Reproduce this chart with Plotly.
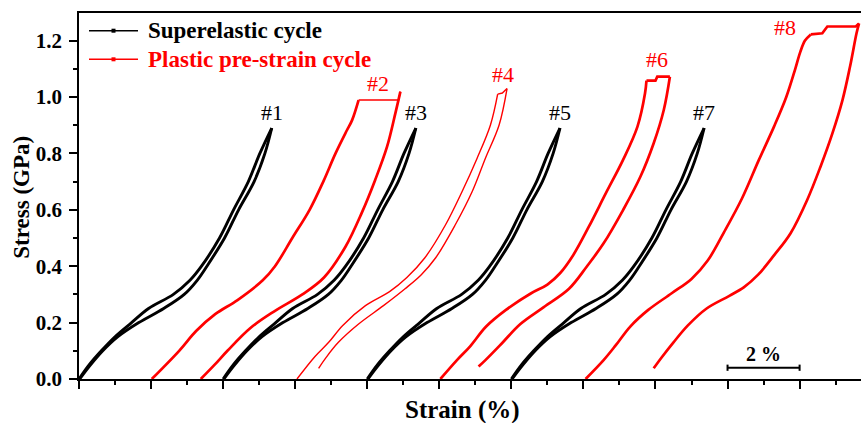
import plotly.graph_objects as go

# ---------------- data ----------------
# Superelastic loop, strain measured from the start of each cycle (%)
se_load_strain = [0.00, 0.28, 0.62, 1.00, 1.46, 1.93, 2.62, 3.08, 3.40, 3.90, 4.29, 4.70, 5.02, 5.35]
se_load_stress = [0.00, 0.05, 0.10, 0.15, 0.20, 0.25, 0.30, 0.35, 0.40, 0.50, 0.60, 0.70, 0.80, 0.89]
se_unload_strain = [5.35, 5.16, 4.86, 4.43, 4.04, 3.55, 3.28, 2.92, 2.35, 1.66, 1.08, 0.66, 0.32, 0.02]
se_unload_stress = [0.89, 0.80, 0.70, 0.60, 0.50, 0.40, 0.35, 0.30, 0.25, 0.20, 0.15, 0.10, 0.05, 0.00]
se_offsets = [0, 4, 8, 12]          # horizontal shift of each superelastic cycle (%)
se_names = ["#1", "#3", "#5", "#7"]

# Plastic pre-strain cycles: loading branch, top segment, unloading branch
p2_load_strain = [2.02, 2.78, 3.25, 3.78, 4.40, 5.10, 5.44, 5.92, 6.40, 6.78, 7.12, 7.44, 7.58, 7.76]
p2_load_stress = [0.00, 0.10, 0.17, 0.23, 0.28, 0.35, 0.40, 0.50, 0.60, 0.70, 0.80, 0.883, 0.918, 0.989]
p2_top_strain = [7.76, 8.87, 8.92]
p2_top_stress = [0.989, 0.989, 1.019]
p2_unload_strain = [8.92, 8.78, 8.55, 8.22, 7.85, 7.40, 6.80, 6.20, 5.42, 4.75, 4.12, 3.76, 3.38]
p2_unload_stress = [1.019, 0.942, 0.824, 0.706, 0.59, 0.47, 0.36, 0.30, 0.24, 0.18, 0.10, 0.05, 0.00]

p4_load_strain = [6.05, 6.55, 6.93, 7.32, 7.95, 8.62, 9.10, 9.60, 10.17, 10.63, 11.05, 11.42, 11.62]
p4_load_stress = [0.00, 0.08, 0.13, 0.19, 0.26, 0.31, 0.36, 0.43, 0.546, 0.664, 0.783, 0.901, 1.010]
p4_top_strain = [11.62, 11.75, 11.88]
p4_top_stress = [1.010, 1.014, 1.030]
p4_unload_strain = [11.88, 11.66, 11.28, 10.91, 10.44, 9.90, 9.50, 9.05, 8.45, 7.76, 7.20, 6.85, 6.65]
p4_unload_stress = [1.030, 0.901, 0.783, 0.664, 0.546, 0.43, 0.37, 0.32, 0.26, 0.195, 0.13, 0.075, 0.038]

p6_load_strain = [10.03, 10.49, 10.85, 11.30, 11.85, 12.55, 13.00, 13.35, 13.72, 14.15, 14.62, 15.10, 15.50, 15.71, 15.75]
p6_load_stress = [0.00, 0.067, 0.115, 0.186, 0.245, 0.304, 0.335, 0.375, 0.440, 0.540, 0.658, 0.777, 0.895, 1.013, 1.058]
p6_top_strain = [15.75, 16.00, 16.05, 16.40]
p6_top_stress = [1.058, 1.058, 1.072, 1.072]
p6_unload_strain = [16.40, 16.23, 15.95, 15.58, 15.10, 14.56, 14.10, 13.60, 12.90, 12.25, 11.74, 11.28, 11.09]
p6_unload_stress = [1.072, 0.954, 0.836, 0.717, 0.599, 0.481, 0.400, 0.320, 0.255, 0.195, 0.127, 0.067, 0.044]

p8_load_strain = [14.06, 14.56, 14.90, 15.30, 15.80, 16.45, 17.00, 17.45, 17.90, 18.40, 18.87, 19.29, 19.63, 19.88, 20.02, 20.15, 20.31]
p8_load_stress = [0.00, 0.067, 0.120, 0.186, 0.245, 0.304, 0.355, 0.420, 0.520, 0.640, 0.777, 0.895, 1.000, 1.100, 1.160, 1.200, 1.222]
p8_top_strain = [20.31, 20.63, 20.77, 21.56, 21.65]
p8_top_stress = [1.222, 1.226, 1.250, 1.250, 1.261]
p8_unload_strain = [21.65, 21.58, 21.40, 21.19, 20.91, 20.58, 20.21, 19.75, 19.30, 18.85, 18.45, 18.05, 17.42, 16.90, 16.50, 16.18, 15.95]
p8_unload_stress = [1.261, 1.226, 1.108, 0.989, 0.871, 0.753, 0.635, 0.517, 0.440, 0.370, 0.325, 0.295, 0.250, 0.190, 0.130, 0.078, 0.038]

legend_names = ["Superelastic cycle", "Plastic pre-strain cycle"]
scale_bar_strain = [18, 20]          # 2 % scale bar
y_ticks = [0.0, 0.2, 0.4, 0.6, 0.8, 1.0, 1.2]

# ---------------- style ----------------
BLACK = "#000000"
RED = "#ff0000"
SERIF = "Liberation Serif, Times New Roman, Times, DejaVu Serif, serif"
W, H = 861, 423
ML, MR, MT, MB = 79, 0, 13, 44
X_RANGE = [0, 782 / 36.03]
Y_RANGE = [0, 366 / 282.0]


def px_x(px):
    return (px - ML) / (W - ML - MR)


def px_y(py):
    return (H - MB - py) / (H - MT - MB)


fig = go.Figure()


def add_branch(xs, ys, color, width, shape="spline"):
    fig.add_trace(go.Scatter(
        x=xs, y=ys, mode="lines", showlegend=False, hoverinfo="skip",
        line=dict(color=color, width=width, shape=shape, smoothing=1.0),
    ))


# superelastic loops
for off in se_offsets:
    add_branch([s + off for s in se_load_strain], se_load_stress, BLACK, 2.9)
    add_branch([s + off for s in se_unload_strain], se_unload_stress, BLACK, 2.9)

# plastic pre-strain loops
plastic = [
    (p2_load_strain, p2_load_stress, p2_top_strain, p2_top_stress, p2_unload_strain, p2_unload_stress, 2.7, 1.5),
    (p4_load_strain, p4_load_stress, p4_top_strain, p4_top_stress, p4_unload_strain, p4_unload_stress, 1.4, 1.4),
    (p6_load_strain, p6_load_stress, p6_top_strain, p6_top_stress, p6_unload_strain, p6_unload_stress, 2.7, 2.7),
    (p8_load_strain, p8_load_stress, p8_top_strain, p8_top_stress, p8_unload_strain, p8_unload_stress, 2.7, 2.7),
]
for lx, ly, tx, ty, ux, uy, w, wt in plastic:
    add_branch(lx, ly, RED, w)
    add_branch(tx, ty, RED, wt, shape="linear")
    add_branch(ux, uy, RED, w)

# cycle labels, anchored at each cycle's peak
label_font = dict(family=SERIF, size=22)
for off, name in zip(se_offsets, se_names):
    fig.add_annotation(x=se_load_strain[-1] + off, y=se_load_stress[-1], text=name,
                       showarrow=False, xanchor="center", yanchor="bottom", yshift=1,
                       font=dict(color=BLACK, **label_font))
red_labels = [("#2", p2_top_strain, p2_top_stress, -22, -6),
              ("#4", p4_top_strain, p4_top_stress, -4, 0),
              ("#6", p6_top_strain, p6_top_stress, -13, 3),
              ("#8", p8_top_strain, p8_top_stress, -74, -19)]
for name, tx, ty, dx, dy in red_labels:
    fig.add_annotation(x=tx[-1], y=ty[-1], text=name, showarrow=False,
                       xanchor="center", yanchor="bottom", xshift=dx, yshift=dy,
                       font=dict(color=RED, **label_font))

# legend drawn with shapes + text
for i, (name, col) in enumerate(zip(legend_names, [BLACK, RED])):
    yy = px_y(30.7 + i * 28.6)
    fig.add_shape(type="line", xref="paper", yref="paper",
                  x0=px_x(89), x1=px_x(138), y0=yy, y1=yy,
                  line=dict(color=col, width=1.6))
    fig.add_shape(type="rect", xref="paper", yref="paper",
                  xsizemode="pixel", ysizemode="pixel",
                  xanchor=px_x(113.5), yanchor=yy,
                  x0=-2, x1=2, y0=-2, y1=2,
                  line=dict(color=col, width=0), fillcolor=col)
    fig.add_annotation(x=px_x(146), y=yy, xref="paper", yref="paper",
                       text=f"<b>{name}</b>", showarrow=False,
                       xanchor="left", yanchor="middle",
                       font=dict(family=SERIF, size=23, color=col))

# 2 % scale bar
sb_y = 0.040
fig.add_shape(type="line", x0=scale_bar_strain[0], x1=scale_bar_strain[1], y0=sb_y, y1=sb_y,
              line=dict(color=BLACK, width=2))
for sx in scale_bar_strain:
    fig.add_shape(type="line", x0=sx, x1=sx, y0=sb_y - 0.011, y1=sb_y + 0.011,
                  line=dict(color=BLACK, width=2))
fig.add_annotation(x=sum(scale_bar_strain) / 2, y=sb_y, text="<b>2 %</b>", showarrow=False,
                   xanchor="center", yanchor="middle", yshift=14,
                   font=dict(family=SERIF, size=20, color=BLACK))

# axis titles
fig.add_annotation(x=px_x(462), y=px_y(410), xref="paper", yref="paper",
                   text="<b>Strain (%)</b>", showarrow=False, xanchor="center", yanchor="middle",
                   font=dict(family=SERIF, size=25, color=BLACK))
fig.add_annotation(x=px_x(22), y=px_y(196.7), xref="paper", yref="paper",
                   text="<b>Stress (GPa)</b>", showarrow=False, textangle=-90,
                   xanchor="center", yanchor="middle",
                   font=dict(family=SERIF, size=23, color=BLACK))

fig.update_xaxes(
    range=X_RANGE, showgrid=False, zeroline=False,
    showline=True, linecolor=BLACK, linewidth=1.5, mirror=True,
    ticks="outside", ticklen=8, tickwidth=1.5, tickcolor=BLACK,
    tick0=0, dtick=2, showticklabels=False,
    minor=dict(ticks="outside", ticklen=4, tickwidth=1.5, tickcolor=BLACK, dtick=1),
)
fig.update_yaxes(
    range=Y_RANGE, showgrid=False, zeroline=False,
    showline=True, linecolor=BLACK, linewidth=1.5,
    ticks="outside", ticklen=8, tickwidth=1.5, tickcolor=BLACK,
    tickvals=y_ticks, ticktext=[f"<b>{v:.1f}</b>" for v in y_ticks],
    tickfont=dict(family=SERIF, size=21, color=BLACK), ticklabelstandoff=3,
    minor=dict(ticks="outside", ticklen=4, tickwidth=1.5, tickcolor=BLACK,
               tickvals=[0.1, 0.3, 0.5, 0.7, 0.9, 1.1]),
)
fig.update_layout(
    width=W, height=H, margin=dict(l=ML, r=MR, t=MT, b=MB),
    paper_bgcolor="white", plot_bgcolor="white", showlegend=False,
    font=dict(family=SERIF, color=BLACK),
)

fig.write_html("out.html")
